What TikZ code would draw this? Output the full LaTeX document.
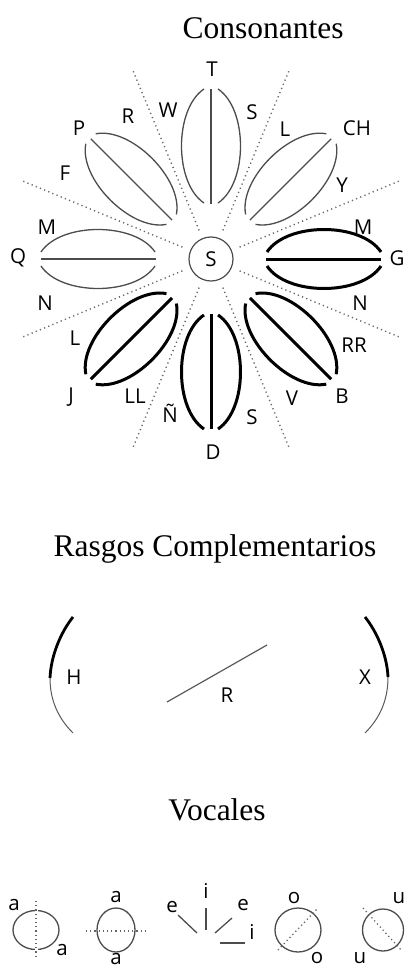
\documentclass[tikz,border=0pt]{standalone}
\usepackage{fontspec}
\setmainfont{Liberation Serif}
\newfontfamily\lblfont{Open Sans}
\begin{document}
\begin{tikzpicture}[x=1pt,y=-1pt]
\tikzset{
  lbl/.style={font=\lblfont\fontsize{20.5}{20.5}\selectfont, inner sep=0pt, text=black},
  ttl/.style={font=\fontsize{31.5}{31.5}\selectfont, inner sep=0pt, anchor=base},
  thinpetal/.style={draw=black!70, line width=1.3pt},
  thickpetal/.style={draw=black, line width=3pt},
  dotline/.style={draw=black!60, line width=1.4pt, dash pattern=on 1.2pt off 3.3pt},
  vline/.style={draw=black!70, line width=1.3pt},
  vdot/.style={draw=black!60, line width=1.3pt, dash pattern=on 1.2pt off 3pt},
}
\useasboundingbox (0,0) rectangle (406,968);
% titles
\node[ttl] (t1) at (263,39) {Consonantes};
\node[ttl] (t2) at (215,556) {Rasgos Complementarios};
\node[ttl] (t3) at (217,820) {Vocales};
% dotted radial lines
\foreach \a in {22.5,67.5,112.5,157.5,202.5,247.5,292.5,337.5}{
  \begin{scope}[shift={(211,259)}, rotate=\a]
    \draw[dotline] (31,0) -- (204,0);
  \end{scope}
}
% petals
\foreach \a/\st in {90/thinpetal,45/thinpetal,135/thinpetal,180/thinpetal,0/thickpetal,-45/thickpetal,-90/thickpetal,-135/thickpetal}{
  \begin{scope}[shift={(211,259)}, rotate=\a]
    \draw[\st] (55,0) -- (170,0);
    \draw[\st] (56,7) .. controls (76,37) and (150,37) .. (170,7);
    \draw[\st] (56,-7) .. controls (76,-37) and (150,-37) .. (170,-7);
  \end{scope}
}
% centre
\node[lbl, circle, draw=black!70, line width=1.2pt, minimum size=44pt] (s) at (211,259) {S};
% consonant labels
\node[lbl] (lT) at (212,69) {T};
\node[lbl] (lW) at (168,110) {W};
\node[lbl] (lR) at (128,116) {R};
\node[lbl] (lS1) at (252,112) {S};
\node[lbl] (lL1) at (285,129) {L};
\node[lbl] (lCH) at (357,128) {CH};
\node[lbl] (lP) at (79,128) {P};
\node[lbl] (lF) at (65,173) {F};
\node[lbl] (lY) at (342,185) {Y};
\node[lbl] (lM1) at (47,227) {M};
\node[lbl] (lM2) at (363,227) {M};
\node[lbl] (lQ) at (18,258) {Q};
\node[lbl] (lG) at (397,258) {G};
\node[lbl] (lN1) at (45,303) {N};
\node[lbl] (lN2) at (360,303) {N};
\node[lbl] (lL2) at (75,338) {L};
\node[lbl] (lRR) at (354,345) {RR};
\node[lbl] (lJ) at (71,397) {J};
\node[lbl] (lLL) at (135,396) {LL};
\node[lbl] (lNn) at (170,413) {Ñ};
\node[lbl] (lS2) at (252,417) {S};
\node[lbl] (lV) at (292,398) {V};
\node[lbl] (lB) at (342,396) {B};
\node[lbl] (lD) at (213,452) {D};
% rasgos complementarios
\draw[draw=black, line width=2.8pt] (73,617) .. controls (61,632) and (51,655) .. (50,678);
\draw[draw=black!65, line width=1pt] (50,678) .. controls (50,700) and (58,718) .. (73,733);
\draw[draw=black, line width=2.8pt] (365,617) .. controls (377,632) and (387,655) .. (388,677);
\draw[draw=black!65, line width=1pt] (388,677) .. controls (388,700) and (380,718) .. (365,733);
\draw[draw=black!65, line width=1.2pt] (167,702) -- (267,645);
\node[lbl] (lH) at (74,677) {H};
\node[lbl] (lX) at (365,677) {X};
\node[lbl] (lR2) at (227,695) {R};
% vowels
\draw[vline] (36,930) ellipse [x radius=23pt, y radius=19.5pt];
\draw[white, line width=3pt] (36,908) -- (36,914) (36,946) -- (36,952);
\draw[vdot] (36,901) -- (36,958);
\node[lbl] (a1) at (14,905) {a};
\node[lbl] (a2) at (62,950) {a};
\draw[vline] (116,930) ellipse [x radius=19pt, y radius=22pt];
\draw[vdot] (86,931) -- (147,931);
\node[lbl] (a3) at (116,897) {a};
\node[lbl] (a4) at (116,959) {a};
\node[lbl] (e1) at (172,907) {e};
\draw[vline] (178,915) -- (197,933);
\node[lbl] (i1) at (206,891) {i};
\draw[vline] (206,908) -- (206,930);
\node[lbl] (e2) at (243,905) {e};
\draw[vline] (232,918) -- (215,933);
\draw[vline] (220,943) -- (245,943);
\node[lbl] (i2) at (252,932) {i};
\draw[vline] (298,930) ellipse [x radius=23pt, y radius=22pt];
\draw[vdot] (278,950) -- (318,908);
\node[lbl] (o1) at (294,898) {o};
\node[lbl] (o2) at (317,958) {o};
\draw[vline] (383,930) ellipse [x radius=20.5pt, y radius=21pt];
\draw[vdot] (363,908) -- (402,951);
\node[lbl] (u1) at (399,898) {u};
\node[lbl] (u2) at (360,958) {u};
\end{tikzpicture}
\end{document}
